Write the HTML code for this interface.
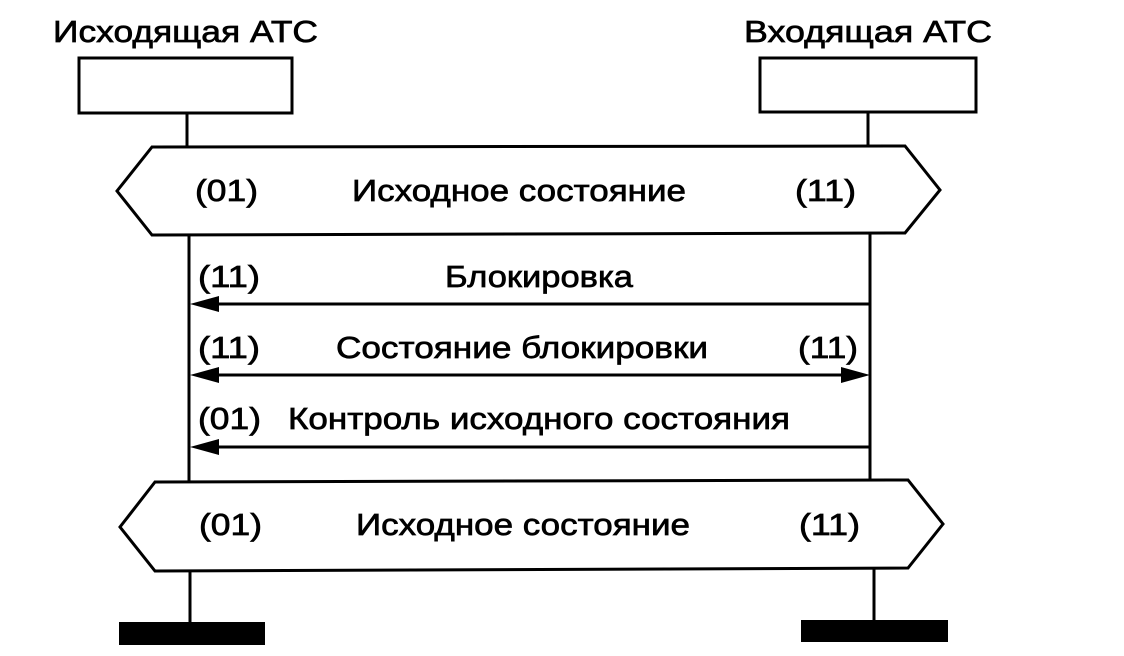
<!DOCTYPE html>
<html><head><meta charset="utf-8"><style>body{margin:0;background:#fff}svg{display:block}</style></head><body>
<svg width="1124" height="656" viewBox="0 0 1124 656" xmlns="http://www.w3.org/2000/svg" font-family="Liberation Sans, Arial, sans-serif" font-size="31" fill="#000">
<g stroke="#000" stroke-width="3" fill="none">
<rect x="79" y="58" width="213" height="55"/>
<rect x="760" y="58" width="216" height="54"/>
<line x1="187" y1="113" x2="187" y2="147"/>
<line x1="868" y1="112" x2="868" y2="146"/>
<polygon points="152,147 905,146 940,190 905,233 152,235 117,191"/>
<line x1="189" y1="235" x2="189" y2="482"/>
<line x1="870" y1="233" x2="870" y2="480"/>
<polygon points="155,482 908,480 943,524 908,568 155,571 120,527"/>
<line x1="190" y1="571" x2="190" y2="622"/>
<line x1="874" y1="568" x2="874" y2="620"/>
<line x1="200" y1="304" x2="870" y2="304"/>
<line x1="200" y1="375" x2="860" y2="375"/>
<line x1="200" y1="447" x2="870" y2="447"/>
</g>
<polygon points="190,304 219,296 219,312"/>
<polygon points="190,375 219,367 219,383"/>
<polygon points="870,375 841,367 841,383"/>
<polygon points="190,447 219,439 219,455"/>
<rect x="119" y="622" width="146" height="23"/>
<rect x="801" y="620" width="147" height="22"/>
<g stroke="#000" stroke-width="0.7">
<text x="53" y="42" textLength="265" lengthAdjust="spacingAndGlyphs">Исходящая АТС</text>
<text x="744" y="42" textLength="248" lengthAdjust="spacingAndGlyphs">Входящая АТС</text>
<text x="195" y="201" textLength="63" lengthAdjust="spacingAndGlyphs">(01)</text>
<text x="352" y="201" textLength="334" lengthAdjust="spacingAndGlyphs">Исходное состояние</text>
<text x="795" y="201" textLength="61" lengthAdjust="spacingAndGlyphs">(11)</text>
<text x="198" y="287" textLength="62" lengthAdjust="spacingAndGlyphs">(11)</text>
<text x="445" y="287" textLength="188" lengthAdjust="spacingAndGlyphs">Блокировка</text>
<text x="198" y="358" textLength="62" lengthAdjust="spacingAndGlyphs">(11)</text>
<text x="336" y="358" textLength="372" lengthAdjust="spacingAndGlyphs">Состояние блокировки</text>
<text x="798" y="358" textLength="60" lengthAdjust="spacingAndGlyphs">(11)</text>
<text x="198" y="429" textLength="63" lengthAdjust="spacingAndGlyphs">(01)</text>
<text x="288" y="429" textLength="502" lengthAdjust="spacingAndGlyphs">Контроль исходного состояния</text>
<text x="199" y="535" textLength="63" lengthAdjust="spacingAndGlyphs">(01)</text>
<text x="356" y="535" textLength="334" lengthAdjust="spacingAndGlyphs">Исходное состояние</text>
<text x="799" y="535" textLength="61" lengthAdjust="spacingAndGlyphs">(11)</text>
</g>
</svg>
</body></html>
